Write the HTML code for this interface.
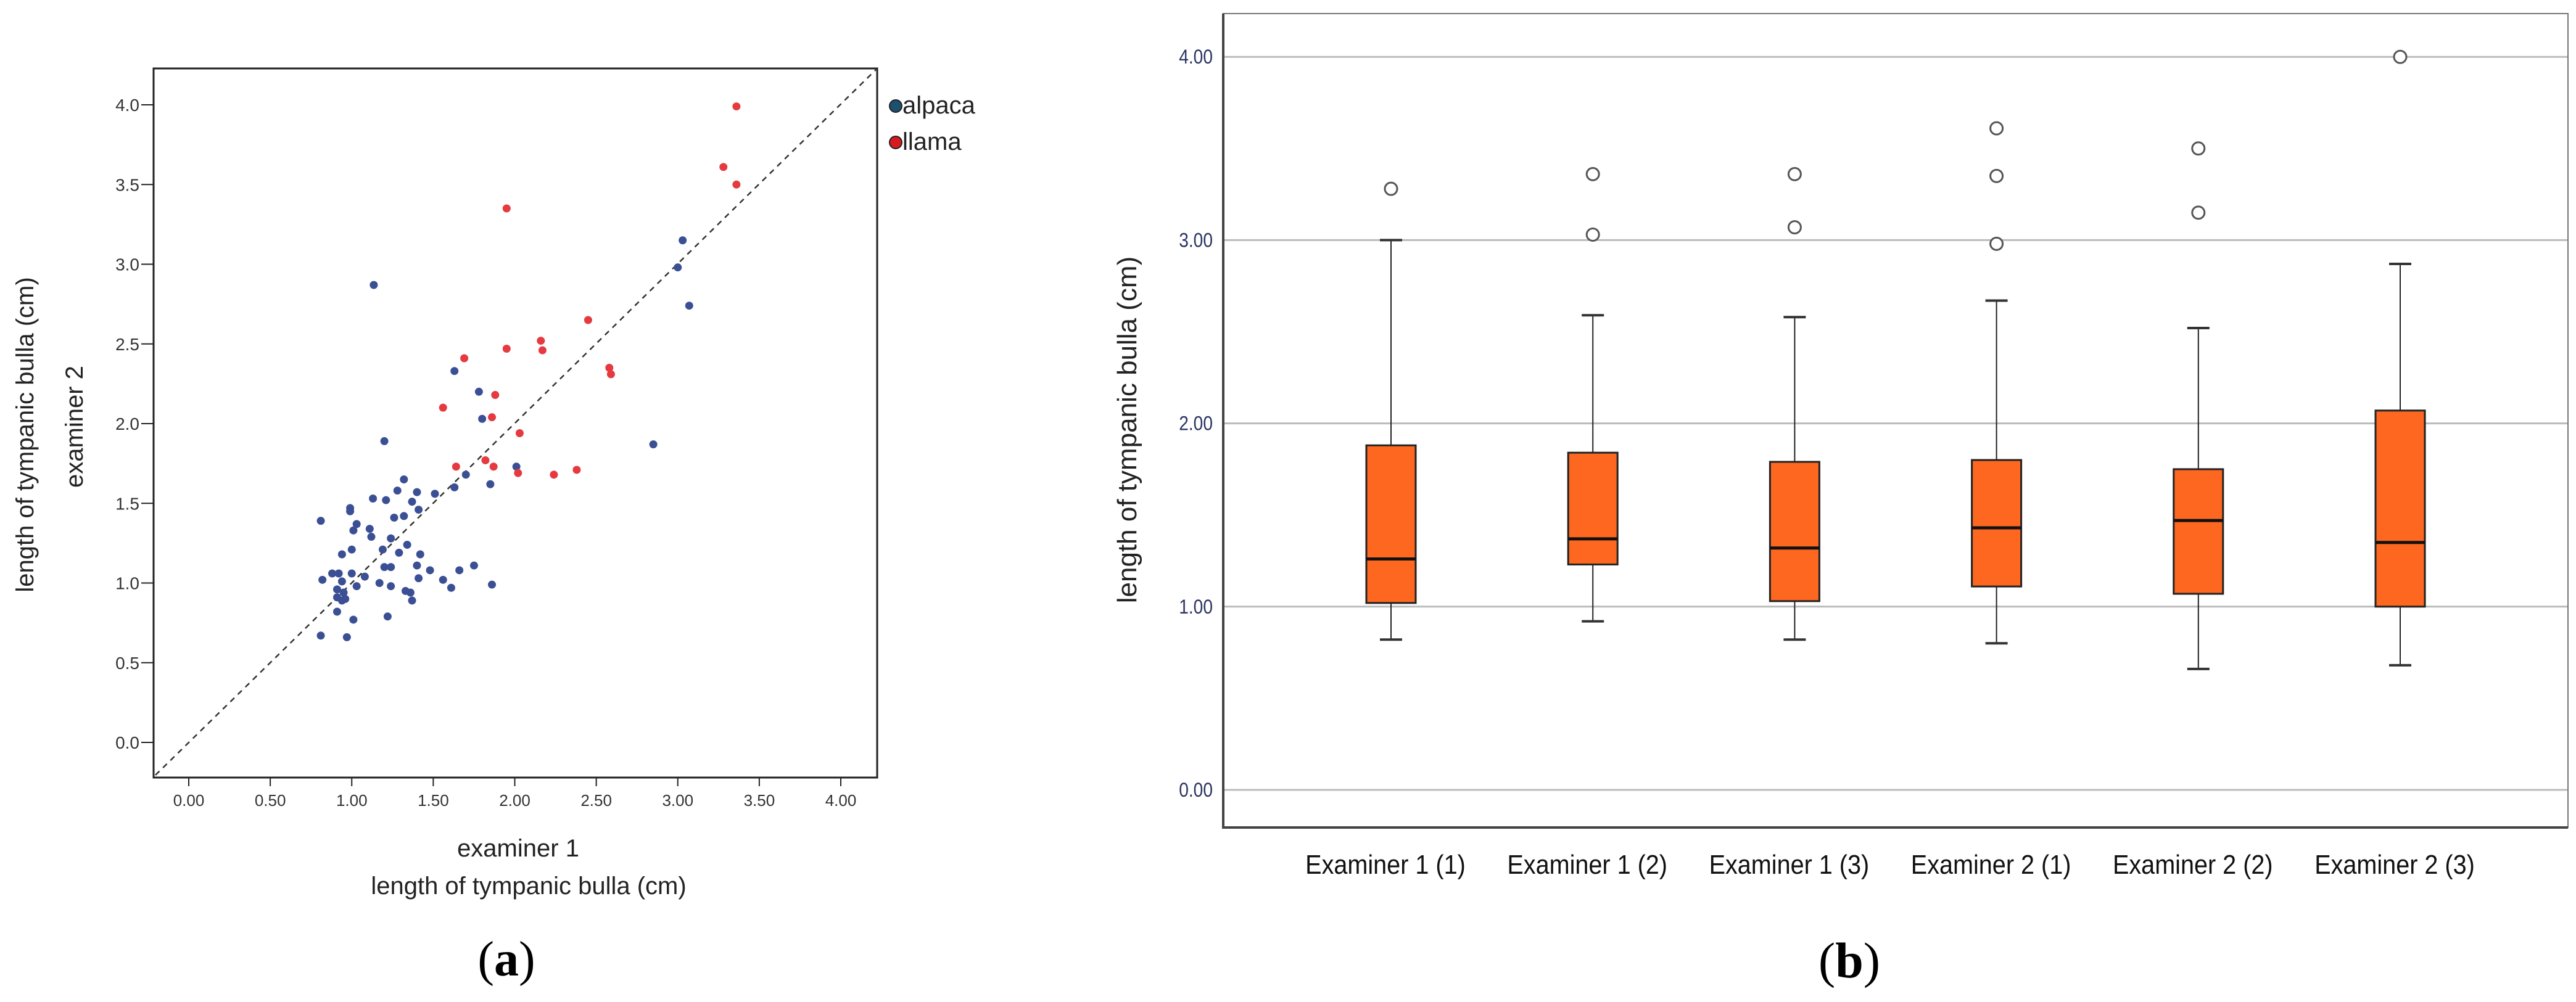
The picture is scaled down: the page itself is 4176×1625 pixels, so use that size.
<!DOCTYPE html>
<html><head><meta charset="utf-8"><style>
body{margin:0;background:#fff}
svg{display:block}
</style></head><body>
<svg id="s" width="4176" height="1625" xmlns="http://www.w3.org/2000/svg" font-family="Liberation Sans, sans-serif">
<g id="a"></g>
<g id="b"></g>
</svg>
<script>
const NS="http://www.w3.org/2000/svg";
const alpacaX=[1.135,1.20,1.63,1.78,1.80,3.03,3.00,3.07,2.85,2.01,1.70,1.63,1.85,1.51,1.32,1.28,1.40,1.13,1.21,1.37,0.99,0.99,1.41,1.26,1.32,0.81,1.03,1.11,1.01,1.12,1.24,1.34,1.19,1.00,1.29,0.94,1.42,1.20,1.24,1.40,1.48,1.66,1.75,0.88,0.92,1.00,1.08,1.41,1.56,0.82,0.94,1.03,1.17,1.24,1.61,1.86,0.91,0.95,1.33,1.36,0.91,0.94,0.96,1.37,0.91,1.01,1.22,0.81,0.97];
const alpacaY=[2.87,1.89,2.33,2.20,2.03,3.15,2.98,2.74,1.87,1.73,1.68,1.60,1.62,1.56,1.65,1.58,1.57,1.53,1.52,1.51,1.47,1.45,1.46,1.41,1.42,1.39,1.37,1.34,1.33,1.29,1.28,1.24,1.21,1.21,1.19,1.18,1.18,1.10,1.10,1.11,1.08,1.08,1.11,1.06,1.06,1.06,1.04,1.03,1.02,1.02,1.01,0.98,1.00,0.98,0.97,0.99,0.96,0.94,0.95,0.94,0.91,0.89,0.90,0.89,0.82,0.77,0.79,0.67,0.66];
const llamaX=[3.36,3.28,3.36,1.95,2.45,2.16,2.17,1.95,1.69,2.58,2.59,1.88,1.56,1.86,2.03,1.82,1.64,1.87,2.02,2.24,2.38];
const llamaY=[3.99,3.61,3.50,3.35,2.65,2.52,2.46,2.47,2.41,2.35,2.31,2.18,2.10,2.04,1.94,1.77,1.73,1.73,1.69,1.68,1.71];
const xTicks=["0.00","0.50","1.00","1.50","2.00","2.50","3.00","3.50","4.00"];
const yTicks=["0.0","0.5","1.0","1.5","2.0","2.5","3.0","3.5","4.0"];
const boxCats=["Examiner 1 (1)","Examiner 1 (2)","Examiner 1 (3)","Examiner 2 (1)","Examiner 2 (2)","Examiner 2 (3)"];
const whiskLo=[0.82,0.92,0.82,0.80,0.66,0.68];
const q1=[1.02,1.23,1.03,1.11,1.07,1.00];
const med=[1.26,1.37,1.32,1.43,1.47,1.35];
const q3=[1.88,1.84,1.79,1.80,1.75,2.07];
const whiskHi=[3.00,2.59,2.58,2.67,2.52,2.87];
const outliers=[[3.28],[3.03,3.36],[3.07,3.36],[2.98,3.35,3.61],[3.15,3.50],[4.00]];
const bTicks=["0.00","1.00","2.00","3.00","4.00"];

function el(p,t,at,txt){const e=document.createElementNS(NS,t);for(const k in at)e.setAttribute(k,at[k]);if(txt!==undefined)e.textContent=txt;p.appendChild(e);return e;}
const A=document.getElementById('a'),B=document.getElementById('b');
const sx=v=>306+v*264.25, sy=v=>1204-v*258.5;
let e;
e=el(A,'rect',{x:249,y:111,width:1173,height:1150,fill:'none',stroke:'#222','stroke-width':3});

e=el(A,'line',{x1:252,y1:1257,x2:1420,y2:113,stroke:'#333','stroke-width':2.5,'stroke-dasharray':'9,8'});

xTicks.forEach(t=>{const v=parseFloat(t),x=sx(v);
 el(A,'line',{x1:x,y1:1261,x2:x,y2:1275,stroke:'#222','stroke-width':2});
 e=el(A,'text',{x:x,y:1307,'font-size':26,'text-anchor':'middle',fill:'#333'},t);
 });
yTicks.forEach(t=>{const v=parseFloat(t),y=sy(v);
 el(A,'line',{x1:229,y1:y,x2:249,y2:y,stroke:'#222','stroke-width':2});
 e=el(A,'text',{x:226,y:y+10,'font-size':28,'text-anchor':'end',fill:'#333'},t);
 });
alpacaX.forEach((v,i)=>{e=el(A,'circle',{cx:sx(v),cy:sy(alpacaY[i]),r:6.5,fill:'#3b4f95'});
 });
llamaX.forEach((v,i)=>{e=el(A,'circle',{cx:sx(v),cy:sy(llamaY[i]),r:6.5,fill:'#e53a40'});
 });
e=el(A,'circle',{cx:1452,cy:172,r:10,fill:'#1d4f6e',stroke:'#222','stroke-width':2});

e=el(A,'text',{x:1463,y:184,'font-size':40,fill:'#222'},'alpaca');

e=el(A,'circle',{cx:1452,cy:231,r:10,fill:'#d71920',stroke:'#222','stroke-width':2});

e=el(A,'text',{x:1463,y:243,'font-size':40,fill:'#222'},'llama');

e=el(A,'text',{x:840,y:1389,'font-size':40,'text-anchor':'middle',fill:'#222'},'examiner 1');

e=el(A,'text',{x:857,y:1450,'font-size':40,'text-anchor':'middle',fill:'#222'},'length of tympanic bulla (cm)');

e=el(A,'text',{x:0,y:0,'font-size':40,'text-anchor':'middle',fill:'#222',transform:'translate(54,705) rotate(-90)'},'length of tympanic bulla (cm)');

e=el(A,'text',{x:0,y:0,'font-size':40,'text-anchor':'middle',fill:'#222',transform:'translate(134,692) rotate(-90)'},'examiner 2');

e=el(A,'text',{x:821,y:1582,'font-size':80,'text-anchor':'middle',fill:'#000',style:'font-family:"Liberation Serif",serif'});

e.innerHTML='(<tspan font-weight="bold">a</tspan>)';

// box plot
const by=v=>1281-v*297.2, bx=i=>2255+i*327.2, bw=80;
bTicks.forEach(t=>{const y=by(parseFloat(t));
 e=el(B,'line',{x1:1983,y1:y,x2:4163,y2:y,stroke:'#bbb','stroke-width':3});
 
 e=el(B,'text',{x:1966/0.88,y:y+11,'font-size':32,'text-anchor':'end',fill:'#2a3560',transform:'scale(0.88,1)'},t);
 });
e=el(B,'rect',{x:1983,y:22,width:2180,height:1320,fill:'none',stroke:'#777','stroke-width':2});

e=el(B,'polyline',{points:'1983,22 1983,1342 4163,1342',fill:'none',stroke:'#444','stroke-width':4});

boxCats.forEach((c,i)=>{const x=bx(i);
 e=el(B,'line',{x1:x,y1:by(whiskHi[i]),x2:x,y2:by(q3[i]),stroke:'#222','stroke-width':2});
 
 e=el(B,'line',{x1:x,y1:by(q1[i]),x2:x,y2:by(whiskLo[i]),stroke:'#222','stroke-width':2});
 
 el(B,'line',{x1:x-18,y1:by(whiskHi[i]),x2:x+18,y2:by(whiskHi[i]),stroke:'#333','stroke-width':4});
 el(B,'line',{x1:x-18,y1:by(whiskLo[i]),x2:x+18,y2:by(whiskLo[i]),stroke:'#333','stroke-width':4});
 e=el(B,'rect',{x:x-bw/2,y:by(q3[i]),width:bw,height:by(q1[i])-by(q3[i]),fill:'#fd6720',stroke:'#222','stroke-width':3});
 
 e=el(B,'line',{x1:x-bw/2,y1:by(med[i]),x2:x+bw/2,y2:by(med[i]),stroke:'#111','stroke-width':5});
 
 outliers[i].forEach(o=>{e=el(B,'circle',{cx:x,cy:by(o),r:10,fill:'#fff',stroke:'#555','stroke-width':3});
  });
 e=el(B,'text',{x:(x-9)/0.9,y:1417,'font-size':44,'text-anchor':'middle',fill:'#111',transform:'scale(0.9,1)'},c);
 
});
e=el(B,'text',{x:0,y:0,'font-size':44,'text-anchor':'middle',fill:'#222',transform:'translate(1842,697) rotate(-90)'},'length of tympanic bulla (cm)');

e=el(B,'text',{x:2998,y:1585,'font-size':82,'text-anchor':'middle',fill:'#000',style:'font-family:"Liberation Serif",serif'});

e.innerHTML='(<tspan font-weight="bold">b</tspan>)';
</script>
</body></html>
